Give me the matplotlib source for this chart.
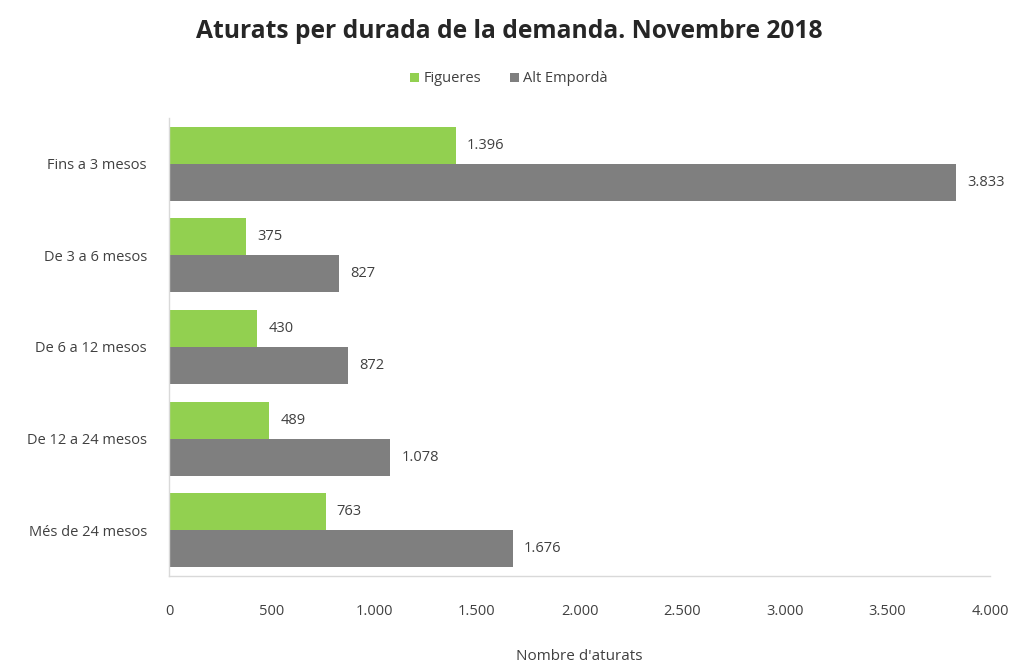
import matplotlib
matplotlib.use("Agg")
import matplotlib.pyplot as plt
import numpy as np

categories = ["Fins a 3 mesos", "De 3 a 6 mesos", "De 6 a 12 mesos", "De 12 a 24 mesos", "Més de 24 mesos"]
figueres = [1396, 375, 430, 489, 763]
alt_emporda = [3833, 827, 872, 1078, 1676]
series_names = ["Figueres", "Alt Empordà"]
xticks = [0, 500, 1000, 1500, 2000, 2500, 3000, 3500, 4000]

def fmt(v):
    return f"{v:,}".replace(",", ".")

plt.rcParams['font.family'] = ['Open Sans', 'DejaVu Sans']

fig = plt.figure(figsize=(10.18, 6.63), dpi=100)
ax = fig.add_axes([169/1018, 1-576/663, (990-169)/1018, (576-118)/663])

green = "#92D050"
gray = "#7F7F7F"
n = len(categories)
y = np.arange(n)
h = 0.405
ax.barh(y - h/2, figueres, height=h, color=green, label=series_names[0])
ax.barh(y + h/2, alt_emporda, height=h, color=gray, label=series_names[1])

for yi, v in zip(y - h/2, figueres):
    ax.annotate(fmt(v), (v, yi), xytext=(8, 0), textcoords="offset points",
                va="center", ha="left", fontsize=10.5, color="#404040")
for yi, v in zip(y + h/2, alt_emporda):
    ax.annotate(fmt(v), (v, yi), xytext=(8, 0), textcoords="offset points",
                va="center", ha="left", fontsize=10.5, color="#404040")

ax.set_ylim(n - 0.5, -0.5)
ax.set_xlim(0, 4000)
ax.set_yticks(y)
ax.set_yticklabels(categories, fontsize=10.5, color="#404040")
ax.set_xticks(xticks)
ax.set_xticklabels([fmt(t) for t in xticks], fontsize=10.5, color="#404040")
ax.tick_params(axis='both', length=0)
ax.tick_params(axis='x', pad=20)
ax.tick_params(axis='y', pad=16)
for s in ["top", "right"]:
    ax.spines[s].set_visible(False)
for s in ["left", "bottom"]:
    ax.spines[s].set_color("#D9D9D9")
    ax.spines[s].set_linewidth(1)

fig.text((169 + 990) / 2 / 1018, 1 - 656/663, "Nombre d'aturats", ha="center", va="center",
         fontsize=11, color="#404040")

fig.text(0.5, 1-31/663, "Aturats per durada de la demanda. Novembre 2018",
         ha="center", va="center", fontsize=17.7, fontweight="bold", color="#262626")

leg = fig.legend(loc="center", bbox_to_anchor=(0.5, 1-79/663), ncol=2, frameon=False,
                 fontsize=10.5, handlelength=0.6, handleheight=0.6, handletextpad=0.3,
                 columnspacing=2.0, labelcolor="#404040")

fig.savefig("out.png", dpi=100)
